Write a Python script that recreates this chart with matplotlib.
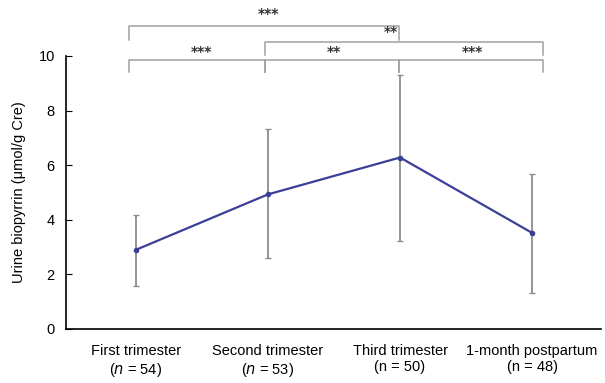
import matplotlib
matplotlib.use("Agg")
import matplotlib.pyplot as plt

plt.rcParams['font.family'] = ['Liberation Sans', 'DejaVu Sans']

# group labels and values (mean with lower/upper error bar ends)
groups = ['First trimester\n($\\it{n}$ = 54)',
          'Second trimester\n($\\it{n}$ = 53)',
          'Third trimester\n(n = 50)',
          '1-month postpartum\n(n = 48)']
means = [2.9, 4.93, 6.28, 3.52]
upper = [4.18, 7.33, 9.3, 5.68]
lower = [1.58, 2.61, 3.22, 1.33]

# significance brackets: (left group, right group, bar height, tip height, label, label x, label baseline)
brackets = [
    (0, 1, 9.85, 9.41, '***', 0.5, 10.0),
    (1, 2, 9.85, 9.41, '**', 1.5, 10.0),
    (2, 3, 9.85, 9.41, '***', 2.55, 10.0),
    (1, 3, 10.51, 10.04, '**', 1.93, 10.72),
    (0, 2, 11.1, 10.59, '***', 1.0, 11.38),
]

x = list(range(len(groups)))
yerr = [[m - lo for m, lo in zip(means, lower)],
        [hi - m for m, hi in zip(means, upper)]]

fig = plt.figure(figsize=(6.05, 3.83), dpi=100)
ax = fig.add_axes([0.109, 0.141, 0.884, 0.713])

ax.errorbar(x, means, yerr=yerr, fmt='none', ecolor='#8c8c8c',
            elinewidth=1.3, capsize=2.5, capthick=1.0, zorder=1)
ax.plot(x, means, color='#3b3f98', lw=1.6, marker='o', ms=3, zorder=2)

# bracket ends sit a little outside the point positions
off = {0: -0.05, 1: -0.02, 2: -0.01, 3: 0.08}
for a, b, h, t, lab, lx, ly in brackets:
    xa, xb = a + off[a], b + off[b]
    ax.plot([xa, xa, xb, xb], [t, h, h, t], color='#a0a0a0', lw=1.1,
            clip_on=False, zorder=0)
    ax.text(lx, ly, lab, ha='center', va='baseline', fontsize=10,
            family='DejaVu Sans', fontweight='bold', color='#333333')

ax.set_xlim(-0.53, 3.52)
ax.set_ylim(0, 10)
ax.set_yticks([0, 2, 4, 6, 8, 10])
ax.set_xticks(x)
ax.set_xticklabels(groups, fontsize=10.5, linespacing=1.2)
ax.tick_params(axis='x', length=0, pad=11)
ax.tick_params(axis='y', direction='in', length=4, labelsize=10.5, pad=8)
ax.set_ylabel('Urine biopyrrin (μmol/g Cre)', fontsize=10.5, labelpad=9)

ax.spines['top'].set_visible(False)
ax.spines['right'].set_visible(False)
ax.spines['left'].set_linewidth(1.2)
ax.spines['bottom'].set_linewidth(1.2)

fig.savefig('out.png', dpi=100)
